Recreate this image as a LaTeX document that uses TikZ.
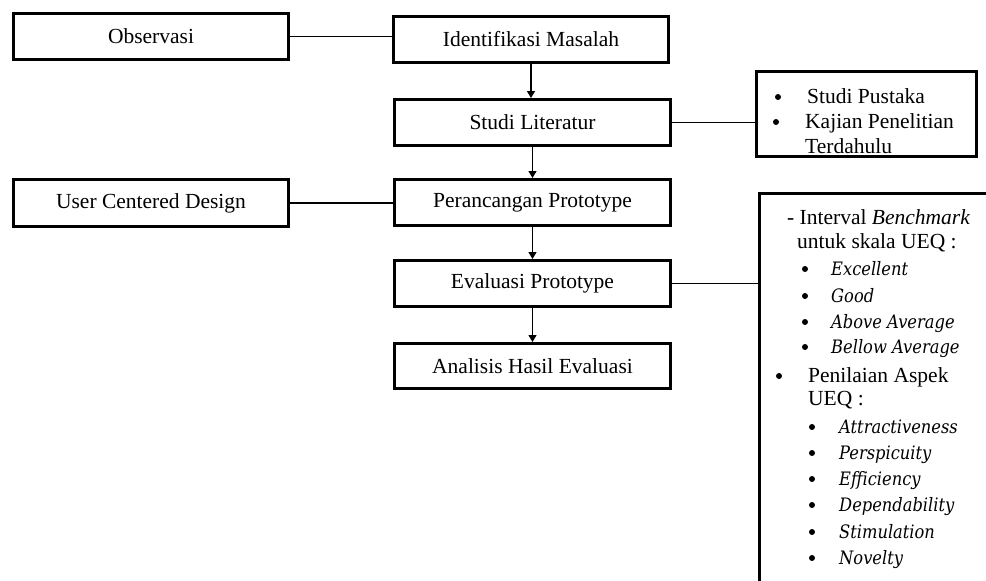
\documentclass[tikz,border=0pt]{standalone}
\usepackage{fontspec}
\setmainfont{Liberation Serif}
\newfontfamily\dvserif{DejaVu Serif}[FakeStretch=0.88]
\usetikzlibrary{arrows.meta}
\newcommand\mainsz{\fontsize{21.5}{26}\selectfont}
\newcommand\itsz{\dvserif\itshape\fontsize{18.5}{22}\selectfont}
\begin{document}
\begin{tikzpicture}[x=1pt,y=-1pt,
  box/.style={draw, line width=3pt, minimum width=275pt, minimum height=46pt, inner sep=0pt, font=\mainsz},
  conn/.style={line width=1.3pt},
  arr/.style={line width=1.3pt, -{Triangle[length=7pt,width=8pt]}},
  txt/.style={anchor=west, inner sep=0pt, text height=15pt, text depth=5pt, font=\mainsz},
  itxt/.style={txt, font=\itsz},
  dot/.style={circle, fill, inner sep=0pt, minimum size=6pt}]
\useasboundingbox (0,0) rectangle (986,581);
\clip (0,0) rectangle (986,581);
\fill[white] (0,0) rectangle (986,581);
% main column
\node[box] (obs) at (151,36.5) {Observasi};
\node[box] (idm) at (531,39) {Identifikasi Masalah};
\node[box,minimum width=276pt] (sl) at (532.5,122.5) {Studi Literatur};
\node[box,minimum width=276pt] (pp) at (532.5,202.5) {Perancangan Prototype};
\node[box,minimum height=47pt] (ucd) at (151,203) {User Centered Design};
\node[box,minimum width=276pt] (ep) at (532.5,283.5) {Evaluasi Prototype};
\node[box,minimum width=276pt,minimum height=45pt] (ahe) at (532.5,366) {Analisis Hasil Evaluasi};
% side boxes
\node[box,minimum width=220pt,minimum height=85pt] (sp) at (866.5,114) {};
\node[box,minimum width=250.5pt,minimum height=416.5pt] (bb) at (884.75,401.75) {};
% connectors
\draw[conn] (obs.east) -- (obs.east -| idm.west);
\draw[conn] (ucd.east) -- (ucd.east -| pp.west);
\draw[conn] (sl.east) -- (sl.east -| sp.west);
\draw[conn] (ep.east) -- (ep.east -| bb.west);
\draw[arr] (idm.south) -- (idm.south |- sl.north);
\draw[arr] (sl.south) -- (sl.south |- pp.north);
\draw[arr] (pp.south) -- (pp.south |- ep.north);
\draw[arr] (ep.south) -- (ep.south |- ahe.north);
% Studi Pustaka box text
\node[dot] (b1) at (778,97) {};
\node[txt] (t1) at (807,98) {Studi Pustaka};
\node[dot] (b2) at (776,122) {};
\node[txt] (t2) at (805,123) {Kajian Penelitian};
\node[txt] (t3) at (805,148) {Terdahulu};
% big box text
\node[txt] (iv) at (787,219) {- Interval \textit{Benchmark}};
\node[txt] (us) at (797,243) {untuk skala UEQ :};
\node[dot] (bx1) at (805,269) {};
\node[itxt] (ix1) at (831,270) {Excellent};
\node[dot] (bx2) at (805,296) {};
\node[itxt] (ix2) at (831,297) {Good};
\node[dot] (bx3) at (805,322) {};
\node[itxt] (ix3) at (831,323) {Above Average};
\node[dot] (bx4) at (805,347) {};
\node[itxt] (ix4) at (831,348) {Bellow Average};
\node[dot] (bp) at (779,376) {};
\node[txt] (pa) at (808,377) {Penilaian Aspek};
\node[txt] (ue) at (808,400) {UEQ :};
\node[dot] (by1) at (812,427) {};
\node[itxt] (iy1) at (839,428) {Attractiveness};
\node[dot] (by2) at (812,453) {};
\node[itxt] (iy2) at (839,454) {Perspicuity};
\node[dot] (by3) at (812,479) {};
\node[itxt] (iy3) at (839,480) {Efficiency};
\node[dot] (by4) at (812,505) {};
\node[itxt] (iy4) at (839,506) {Dependability};
\node[dot] (by5) at (812,532) {};
\node[itxt] (iy5) at (839,533) {Stimulation};
\node[dot] (by6) at (812,558) {};
\node[itxt] (iy6) at (839,559) {Novelty};
\end{tikzpicture}
\end{document}
